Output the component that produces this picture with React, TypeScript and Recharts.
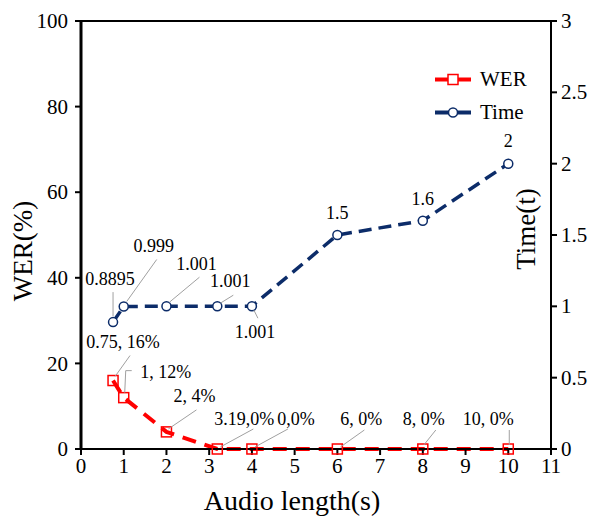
import { Label, LabelList, Legend, Line, LineChart, ReferenceLine, XAxis, YAxis } from "recharts";

const FONT = "'Liberation Serif', 'Times New Roman', serif";
const RED = "#ff0000";
const NAVY = "#0c2c69";

// values
const audioLength = [0.75, 1, 2, 3.19, 4, 6, 8, 10];
const werValues = [16, 12, 4, 0, 0, 0, 0, 0];
const timeValues = [0.8895, 0.999, 1.001, 1.001, 1.001, 1.5, 1.6, 2];

const werLabels = ["0.75, 16%", "1, 12%", "2, 4%", "3.19,0%", "0,0%", "6, 0%", "8, 0%", "10, 0%"];
const timeLabels = ["0.8895", "0.999", "1.001", "1.001", "1.001", "1.5", "1.6", "2"];

const xTicks = [0, 1, 2, 3, 4, 5, 6, 7, 8, 9, 10, 11];
const werTicks = [0, 20, 40, 60, 80, 100];
const timeTicks = [0, 0.5, 1, 1.5, 2, 2.5, 3];

const data = audioLength.map((x, i) => ({ x, wer: werValues[i], time: timeValues[i] }));

// callout placement relative to each point: text offset + leader polyline
type Callout = { dx: number; dy: number; lead?: number[][] };

const werCallouts: Callout[] = [
  { dx: 10, dy: -33, lead: [[2, -4], [17, -25]] },
  { dx: 42, dy: -20, lead: [[1, -5], [2, -27], [8, -27]] },
  { dx: 28, dy: -30, lead: [[2, -3], [30, -22]] },
  { dx: 27, dy: -24, lead: [[3, -2], [36, -20]] },
  { dx: 44, dy: -24, lead: [[3, -2], [36, -20]] },
  { dx: 24, dy: -24, lead: [[3, -2], [27, -19]] },
  { dx: 1, dy: -24, lead: [[1, -4], [13, -19]] },
  { dx: -20, dy: -24, lead: [[1, -4], [1, -19]] },
];

const timeCallouts: Callout[] = [
  { dx: -3, dy: -37, lead: [[0, -6], [0, -30]] },
  { dx: 30, dy: -54, lead: [[3, -5], [33, -47]] },
  { dx: 30, dy: -36, lead: [[3, -4], [33, -29]] },
  { dx: 13, dy: -19, lead: [[3, -3], [16, -11]] },
  { dx: 3, dy: 32, lead: [[2, 4], [6, 12]] },
  { dx: 0, dy: -16 },
  { dx: 0, dy: -16 },
  { dx: 0, dy: -17 },
];

const calloutContent = (texts: string[], spots: Callout[]) => (props: any) => {
  const x = props.x ?? props.viewBox?.x;
  const y = props.y ?? props.viewBox?.y;
  const s = spots[props.index];
  if (x == null || y == null || !s) return null;
  return (
    <g key={`c-${props.index}`}>
      {s.lead && (
        <polyline
          points={s.lead.map(([a, b]) => `${x + a},${y + b}`).join(" ")}
          fill="none"
          stroke="#a0a0a0"
          strokeWidth={1}
        />
      )}
      <text x={x + s.dx} y={y + s.dy} textAnchor="middle" fontSize={18} fontFamily={FONT} fill="#000">
        {texts[props.index]}
      </text>
    </g>
  );
};

const SquareDot = (props: any) => {
  const { cx, cy, index } = props;
  if (cx == null || cy == null) return null;
  return <rect key={`sq-${index}`} x={cx - 5} y={cy - 5} width={10} height={10} fill="none" stroke={RED} strokeWidth={1.5} />;
};

const makeTick = (anchor: "start" | "middle" | "end", dy: string) => (props: any) => {
  const { x, y, payload, index } = props;
  return (
    <text key={`t-${index}`} x={x} y={y} dy={dy} textAnchor={anchor} fontSize={21} fontFamily={FONT} fill="#000">
      {payload.value}
    </text>
  );
};

const legendItems = [
  { label: "WER", color: RED, shape: "square" },
  { label: "Time", color: NAVY, shape: "circle" },
];

function ChartLegend() {
  return (
    <div style={{ fontFamily: FONT, fontSize: 21 }}>
      {legendItems.map((item) => (
        <div key={item.label} style={{ display: "flex", alignItems: "center", height: 33 }}>
          <svg width={40} height={33}>
            <line x1={2} x2={38} y1={16.5} y2={16.5} stroke={item.color} strokeWidth={4} />
            {item.shape === "square" ? (
              <rect x={15} y={11.5} width={10} height={10} fill="#fff" stroke={item.color} strokeWidth={1.5} />
            ) : (
              <circle cx={20} cy={16.5} r={4.5} fill="#fff" stroke={item.color} strokeWidth={1.5} />
            )}
          </svg>
          <span style={{ marginLeft: 7, color: "#000" }}>{item.label}</span>
        </div>
      ))}
    </div>
  );
}

export default function App() {
  return (
    <div style={{ width: 589, height: 517, background: "#fff", fontFamily: FONT }}>
      <style>{`body{margin:0} svg text{font-family:'Liberation Serif','Times New Roman',serif}`}</style>
      <LineChart width={589} height={517} data={data} margin={{ top: 21, right: 0, bottom: 38, left: 0 }}>
        <XAxis
          type="number"
          dataKey="x"
          domain={[0, 11]}
          ticks={xTicks}
          height={30}
          tick={makeTick("middle", "0.75em")}
          tickSize={6}
          axisLine={{ stroke: "#000", strokeWidth: 2 }}
          tickLine={{ stroke: "#000", strokeWidth: 2 }}
        >
          <Label
            content={(p: any) => {
              const vb = p.viewBox;
              return (
                <text x={vb.x + 211} y={vb.y + 61} textAnchor="middle" fontSize={28} fontFamily={FONT} fill="#000">
                  Audio length(s)
                </text>
              );
            }}
          />
        </XAxis>
        <YAxis
          yAxisId="wer"
          domain={[0, 100]}
          ticks={werTicks}
          width={81}
          tick={makeTick("end", "0.34em")}
          tickSize={6}
          tickMargin={7}
          axisLine={{ stroke: "#000", strokeWidth: 3 }}
          tickLine={{ stroke: "#000", strokeWidth: 2 }}
        >
          <Label
            content={(p: any) => {
              const vb = p.viewBox;
              const x = vb.x + 32;
              const y = vb.y + vb.height / 2 + 16;
              return (
                <text x={x} y={y} transform={`rotate(-90, ${x}, ${y})`} textAnchor="middle" fontSize={27} fontFamily={FONT} fill="#000">
                  WER(%)
                </text>
              );
            }}
          />
        </YAxis>
        <YAxis
          yAxisId="time"
          orientation="right"
          domain={[0, 3]}
          ticks={timeTicks}
          width={38}
          tick={makeTick("start", "0.34em")}
          tickSize={6}
          tickMargin={4}
          axisLine={{ stroke: "#000", strokeWidth: 2 }}
          tickLine={{ stroke: "#000", strokeWidth: 2 }}
        >
          <Label
            content={(p: any) => {
              const vb = p.viewBox;
              const x = vb.x - 16;
              const y = vb.y + vb.height / 2 - 6;
              return (
                <text x={x} y={y} transform={`rotate(-90, ${x}, ${y})`} textAnchor="middle" fontSize={27} fontFamily={FONT} fill="#000">
                  Time(t)
                </text>
              );
            }}
          />
        </YAxis>
        <ReferenceLine yAxisId="wer" y={100} stroke="#000" strokeWidth={2} />
        <Legend
          layout="vertical"
          align="center"
          verticalAlign="middle"
          content={() => <ChartLegend />}
          wrapperStyle={{ position: "absolute", left: 433, top: 62.5, width: "auto" }}
        />
        <Line
          yAxisId="time"
          dataKey="time"
          stroke={NAVY}
          strokeWidth={3.5}
          strokeDasharray="13 7"
          dot={{ r: 4.5, fill: "#fff", stroke: NAVY, strokeWidth: 1.5, strokeDasharray: "" }}
          isAnimationActive={false}
        >
          <LabelList dataKey="time" content={calloutContent(timeLabels, timeCallouts)} />
        </Line>
        <Line
          yAxisId="wer"
          dataKey="wer"
          stroke={RED}
          strokeWidth={4}
          strokeDasharray="14 9"
          dot={<SquareDot />}
          isAnimationActive={false}
        >
          <LabelList dataKey="wer" content={calloutContent(werLabels, werCallouts)} />
        </Line>
      </LineChart>
    </div>
  );
}
